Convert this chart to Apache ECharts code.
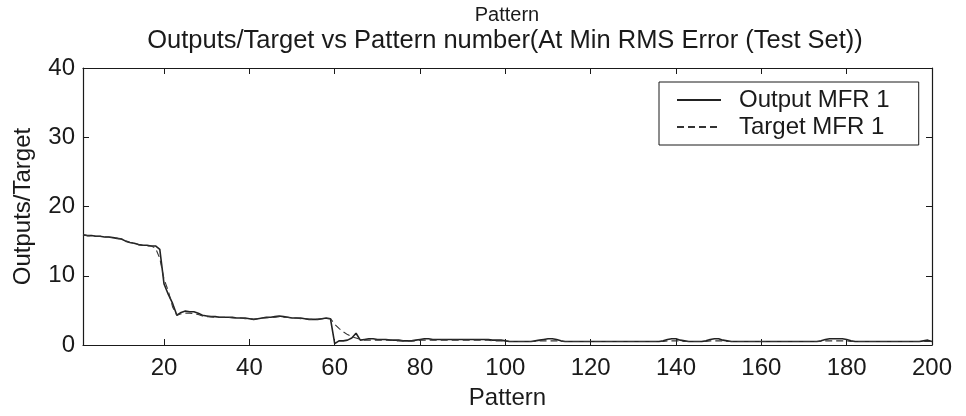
<!DOCTYPE html>
<html>
<head>
<meta charset="utf-8">
<script src="https://cdn.jsdelivr.net/npm/echarts@6/dist/echarts.min.js"></script>
<style>html,body{margin:0;padding:0;background:#fff}#c{width:966px;height:416px}</style>
</head>
<body>
<div id="c"></div>
<script>
var titleTop = 'Pattern';
var titleMain = 'Outputs/Target vs Pattern number(At Min RMS Error (Test Set))';
var xName = 'Pattern';
var yName = 'Outputs/Target';
var seriesNames = ['Output MFR 1', 'Target MFR 1'];
var xTicks = [20, 40, 60, 80, 100, 120, 140, 160, 180, 200];
var yTicks = [0, 10, 20, 30, 40];

var output = [
  15.9, 15.8, 15.8, 15.7, 15.7, 15.6, 15.6, 15.5, 15.4, 15.3,
  15.0, 14.8, 14.7, 14.5, 14.4, 14.4, 14.3, 14.3, 13.8, 8.8,
  7.3, 6.0, 4.3, 4.7, 4.9, 4.8, 4.8, 4.6, 4.3, 4.2,
  4.1, 4.1, 4.0, 4.0, 4.0, 4.0, 3.9, 3.9, 3.9, 3.8,
  3.7, 3.8, 3.9, 4.0, 4.0, 4.1, 4.2, 4.1, 4.0, 3.9,
  3.9, 3.9, 3.8, 3.7, 3.7, 3.7, 3.8, 3.9, 3.8, 0.2,
  0.6, 0.6, 0.7, 1.0, 1.7, 0.7, 0.8, 0.9, 0.9, 0.8,
  0.8, 0.8, 0.7, 0.7, 0.7, 0.6, 0.6, 0.6, 0.7, 0.8,
  0.9, 0.9, 0.8, 0.8, 0.8, 0.8, 0.8, 0.8, 0.8, 0.8,
  0.8, 0.8, 0.8, 0.8, 0.8, 0.8, 0.7, 0.7, 0.7, 0.6,
  0.5, 0.5, 0.5, 0.5, 0.5, 0.5, 0.6, 0.7, 0.8, 0.9,
  0.9, 0.8, 0.6, 0.5, 0.5, 0.5, 0.5, 0.5, 0.5, 0.5,
  0.5, 0.5, 0.5, 0.5, 0.5, 0.5, 0.5, 0.5, 0.5, 0.5,
  0.5, 0.5, 0.5, 0.5, 0.5, 0.5, 0.6, 0.8, 0.9, 0.9,
  0.7, 0.6, 0.5, 0.5, 0.5, 0.5, 0.6, 0.8, 0.9, 0.9,
  0.7, 0.6, 0.5, 0.5, 0.5, 0.5, 0.5, 0.5, 0.5, 0.5,
  0.5, 0.5, 0.5, 0.5, 0.5, 0.5, 0.5, 0.5, 0.5, 0.5,
  0.5, 0.5, 0.5, 0.6, 0.8, 0.9, 0.9, 0.9, 0.9, 0.8,
  0.6, 0.5, 0.5, 0.5, 0.5, 0.5, 0.5, 0.5, 0.5, 0.5,
  0.5, 0.5, 0.5, 0.5, 0.5, 0.5, 0.5, 0.6, 0.7, 0.5
];

var target = [
  15.9, 15.8, 15.8, 15.7, 15.7, 15.6, 15.6, 15.5, 15.4, 15.3,
  15.0, 14.8, 14.7, 14.5, 14.4, 14.3, 14.3, 14.0, 12.5, 9.5,
  7.8, 5.5, 4.3, 4.5, 4.6, 4.6, 4.5, 4.4, 4.2, 4.1,
  4.1, 4.0, 4.0, 4.0, 4.0, 3.9, 3.9, 3.9, 3.8, 3.8,
  3.7, 3.8, 3.9, 3.9, 4.0, 4.0, 4.1, 4.0, 4.0, 3.9,
  3.9, 3.8, 3.8, 3.7, 3.7, 3.7, 3.8, 3.8, 3.8, 3.0,
  2.4, 1.9, 1.5, 1.2, 1.0, 0.8, 0.7, 0.7, 0.7, 0.7,
  0.7, 0.7, 0.7, 0.6, 0.6, 0.6, 0.6, 0.6, 0.6, 0.7,
  0.7, 0.7, 0.7, 0.7, 0.7, 0.7, 0.7, 0.7, 0.7, 0.7,
  0.7, 0.7, 0.7, 0.7, 0.7, 0.7, 0.6, 0.6, 0.6, 0.6,
  0.5, 0.5, 0.5, 0.5, 0.5, 0.5, 0.5, 0.6, 0.6, 0.6,
  0.6, 0.6, 0.5, 0.5, 0.5, 0.5, 0.5, 0.5, 0.5, 0.5,
  0.5, 0.5, 0.5, 0.5, 0.5, 0.5, 0.5, 0.5, 0.5, 0.5,
  0.5, 0.5, 0.5, 0.5, 0.5, 0.5, 0.5, 0.6, 0.6, 0.6,
  0.6, 0.5, 0.5, 0.5, 0.5, 0.5, 0.5, 0.6, 0.6, 0.6,
  0.6, 0.5, 0.5, 0.5, 0.5, 0.5, 0.5, 0.5, 0.5, 0.5,
  0.5, 0.5, 0.5, 0.5, 0.5, 0.5, 0.5, 0.5, 0.5, 0.5,
  0.5, 0.5, 0.5, 0.5, 0.6, 0.6, 0.6, 0.6, 0.6, 0.6,
  0.5, 0.5, 0.5, 0.5, 0.5, 0.5, 0.5, 0.5, 0.5, 0.5,
  0.5, 0.5, 0.5, 0.5, 0.5, 0.5, 0.5, 0.5, 0.5, 0.5
];

var patterns = output.map(function (_, i) { return i + 1; });

function pairs(vals) { return vals.map(function (v, i) { return [patterns[i], v]; }); }

var FONT = '"Liberation Sans", Arial, sans-serif';
var INK = '#1a1a1a';

var chart = echarts.init(document.getElementById('c'), null, { renderer: 'canvas' });

function xAxisCfg(pos, showLabels) {
  return {
    type: 'value', position: pos, min: 1, max: 200,
    axisLine: { show: true, onZero: false, lineStyle: { color: INK, width: 1.2 } },
    axisTick: { show: true, inside: true, length: 6, customValues: xTicks, lineStyle: { color: INK } },
    axisLabel: { show: showLabels, customValues: xTicks, fontSize: 24, color: INK, fontFamily: FONT, margin: 11 },
    splitLine: { show: false },
    name: showLabels ? xName : '', nameLocation: 'middle', nameGap: 41,
    nameTextStyle: { fontSize: 24, color: INK, fontFamily: FONT }
  };
}
function yAxisCfg(pos, showLabels) {
  return {
    type: 'value', position: pos, min: 0, max: 40, interval: 10,
    axisLine: { show: true, onZero: false, lineStyle: { color: INK, width: 1.2 } },
    axisTick: { show: true, inside: true, length: 6, lineStyle: { color: INK } },
    axisLabel: { show: showLabels, fontSize: 24, color: INK, fontFamily: FONT, margin: 8 },
    splitLine: { show: false },
    name: showLabels ? yName : '', nameLocation: 'middle', nameGap: 48,
    nameTextStyle: { fontSize: 24, color: INK, fontFamily: FONT }
  };
}

chart.setOption({
  animation: false,
  backgroundColor: '#fff',
  title: [
    { text: titleTop, left: 507, textAlign: 'center', top: 5, padding: 0,
      textStyle: { fontSize: 20, fontWeight: 'normal', color: INK, fontFamily: FONT } },
    { text: titleMain, left: 505, textAlign: 'center', top: 28, padding: 0,
      textStyle: { fontSize: 25.5, fontWeight: 'normal', color: INK, fontFamily: FONT } }
  ],
  grid: { left: 83, right: 34, top: 68, bottom: 71, containLabel: false },
  legend: {
    orient: 'vertical', left: 659, top: 82,
    itemWidth: 44, itemHeight: 14, itemGap: 3,
    padding: [6, 29, 6, 17],
    borderColor: INK, borderWidth: 1, backgroundColor: '#fff',
    itemStyle: { opacity: 0 },
    textStyle: { fontSize: 24, color: INK, fontFamily: FONT, padding: [0, 0, 0, 13] },
    data: seriesNames
  },
  xAxis: [xAxisCfg('bottom', true), xAxisCfg('top', false)],
  yAxis: [yAxisCfg('left', true), yAxisCfg('right', false)],
  series: [
    { name: seriesNames[0], type: 'line', data: pairs(output), symbol: 'none', showSymbol: false,
      lineStyle: { color: '#222', width: 1.6, type: 'solid' }, itemStyle: { color: '#222' } },
    { name: seriesNames[1], type: 'line', data: pairs(target), symbol: 'none', showSymbol: false,
      lineStyle: { color: '#333', width: 1.1, type: [7, 4] }, itemStyle: { color: '#333' } }
  ]
});
</script>
</body>
</html>
